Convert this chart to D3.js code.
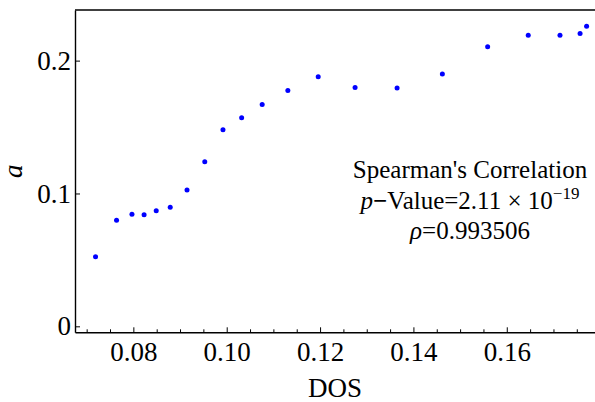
<!DOCTYPE html>
<html>
<head>
<meta charset="utf-8">
<script src="https://cdn.jsdelivr.net/npm/d3@7"></script>
<style>
  html, body { margin: 0; padding: 0; background: #fff; }
  svg { display: block; }
  svg text { font-family: "Liberation Serif", "Times New Roman", Tinos, "DejaVu Serif", serif; }
</style>
</head>
<body>
<svg id="chart" width="595" height="402" font-family="Liberation Serif, Times New Roman, Tinos, serif"></svg>
<script>
// ---- data ----
const dosValues = [0.0719, 0.0764, 0.0797, 0.0823, 0.0849, 0.0879, 0.0915, 0.0953, 0.0992, 0.1032,
                   0.1076, 0.1131, 0.1196, 0.1275, 0.1365, 0.1462, 0.1559, 0.1646, 0.1714, 0.1757, 0.1771];
const aValues   = [0.0524, 0.0799, 0.0844, 0.0839, 0.0869, 0.0897, 0.1027, 0.1238, 0.1479, 0.1570,
                   0.1670, 0.1775, 0.1879, 0.1798, 0.1793, 0.1899, 0.2105, 0.2190, 0.2190, 0.2205, 0.2258];
const xTicks = [0.08, 0.10, 0.12, 0.14, 0.16];
const xTickLabels = ["0.08", "0.10", "0.12", "0.14", "0.16"];
const yTicks = [0, 0.1, 0.2];
const yTickLabels = ["0", "0.1", "0.2"];
const xLabel = "DOS";
const yLabel = "a";
const annotTitle = "Spearman's Correlation";
const pValueMantissa = "2.11";
const pValueExponent = "−19";
const rhoValue = "0.993506";

// ---- layout ----
const FONT = "Liberation Serif, Times New Roman, Tinos, serif";
const mLeft = 75, mRight = 595, mTop = 10, mBottom = 332.3;
const svg = d3.select("#chart");
svg.append("style").text('text { font-family: "Liberation Serif", "Times New Roman", Tinos, serif; }');

const x = d3.scaleLinear().domain([0.0675, 0.1789]).range([mLeft, mRight]);
const y = d3.scaleLinear().domain([-0.0045, 0.2381]).range([mBottom, mTop]);

// minor x ticks
const minorX = d3.range(0.07, 0.1789, 0.005).filter(v => !xTicks.some(t => Math.abs(t - v) < 1e-6));

const gxMinor = svg.append("g").attr("transform", `translate(0,${mBottom})`)
  .call(d3.axisBottom(x).tickValues(minorX).tickSizeInner(-3).tickSizeOuter(0).tickFormat(""));
gxMinor.select(".domain").remove();
gxMinor.selectAll("line").attr("stroke", "#000").attr("stroke-width", 1);

const gx = svg.append("g").attr("transform", `translate(0,${mBottom})`)
  .call(d3.axisBottom(x).tickValues(xTicks).tickSizeInner(-5).tickSizeOuter(0).tickPadding(10)
        .tickFormat((d, i) => xTickLabels[i]));
gx.attr("font-family", FONT).attr("font-size", 27);
gx.select(".domain").attr("stroke", "#000").attr("stroke-width", 1.4);
gx.selectAll("line").attr("stroke", "#000").attr("stroke-width", 1);
gx.selectAll("text").attr("font-family", FONT).attr("font-size", 27).attr("fill", "#000");

const gy = svg.append("g").attr("transform", `translate(${mLeft},0)`)
  .call(d3.axisLeft(y).tickValues(yTicks).tickSizeInner(-5).tickSizeOuter(0).tickPadding(4)
        .tickFormat((d, i) => yTickLabels[i]));
gy.attr("font-family", FONT).attr("font-size", 27);
gy.select(".domain").attr("stroke", "#000").attr("stroke-width", 1.4);
gy.selectAll("line").attr("stroke", "#000").attr("stroke-width", 1);
gy.selectAll("text").attr("font-family", FONT).attr("font-size", 27).attr("fill", "#000");

// top frame line
svg.append("line").attr("x1", mLeft).attr("x2", mRight).attr("y1", mTop).attr("y2", mTop)
  .attr("stroke", "#000").attr("stroke-width", 1.6);

// points
svg.append("g").selectAll("circle")
  .data(dosValues.map((d, i) => [d, aValues[i]]))
  .join("circle")
  .attr("cx", d => x(d[0]))
  .attr("cy", d => y(d[1]))
  .attr("r", 2.5)
  .attr("fill", "#0000ff");

// axis labels
svg.append("text").attr("x", (mLeft + mRight) / 2).attr("y", 397)
  .attr("text-anchor", "middle").attr("font-family", FONT).attr("font-size", 27).text(xLabel);
svg.append("text").attr("transform", `translate(22,${(mTop + mBottom) / 2}) rotate(-90)`)
  .attr("text-anchor", "middle").attr("font-family", FONT).attr("font-size", 27)
  .attr("font-style", "italic").text(yLabel);

// annotation
const ax = 470;
svg.append("text").attr("x", ax).attr("y", 178).attr("text-anchor", "middle")
  .attr("font-family", FONT).attr("font-size", 25).text(annotTitle);
const t2 = svg.append("text").attr("x", ax).attr("y", 209).attr("text-anchor", "middle")
  .attr("font-family", FONT).attr("font-size", 25);
t2.append("tspan").attr("font-style", "italic").text("p");
t2.append("tspan").attr("font-weight", "bold").text("−");
t2.append("tspan").text("Value=" + pValueMantissa + " × 10");
t2.append("tspan").attr("font-size", 17).attr("dy", -10).text(pValueExponent);
const t3 = svg.append("text").attr("x", ax).attr("y", 239).attr("text-anchor", "middle")
  .attr("font-family", FONT).attr("font-size", 25);
t3.append("tspan").attr("font-style", "italic").text("ρ");
t3.append("tspan").text("=" + rhoValue);
</script>
</body>
</html>
